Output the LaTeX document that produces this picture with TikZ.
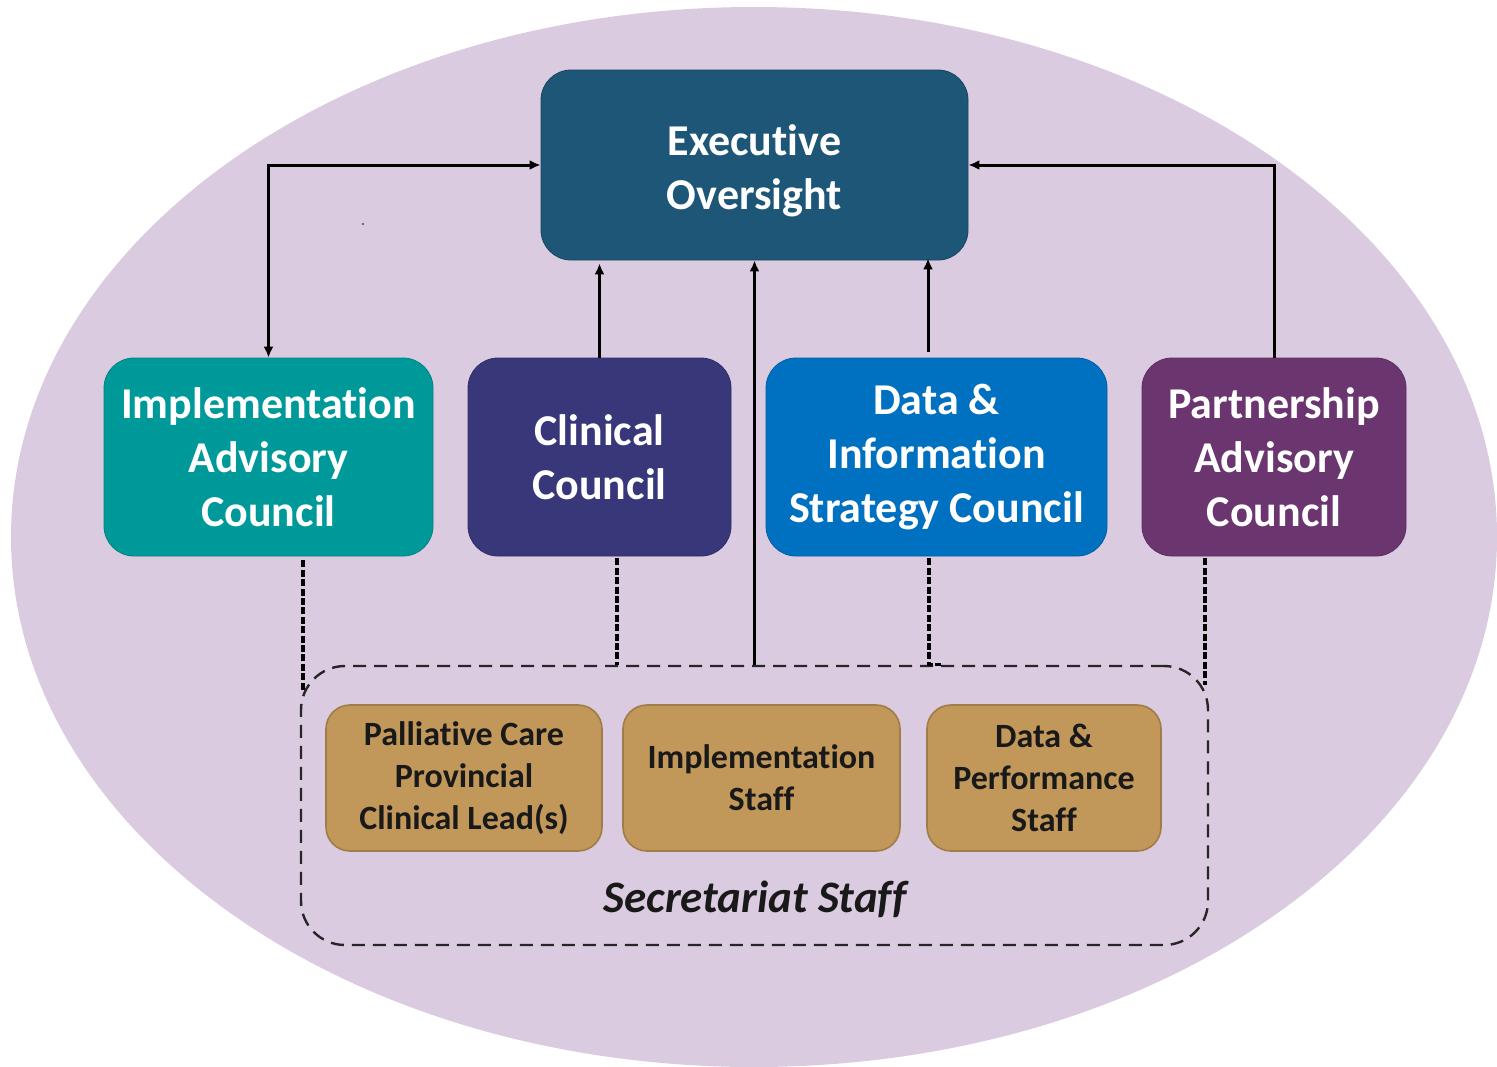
\documentclass[tikz,border=0pt]{standalone}
\usepackage{fontspec}
\setmainfont{Carlito}[Ligatures=NoCommon]
\usetikzlibrary{arrows.meta}
\definecolor{bgc}{HTML}{DACBE0}
\definecolor{execc}{HTML}{1E5678}
\definecolor{implc}{HTML}{009999}
\definecolor{clinc}{HTML}{37377A}
\definecolor{datac}{HTML}{0070C0}
\definecolor{partc}{HTML}{6B3670}
\definecolor{staffc}{HTML}{C1975A}
\definecolor{staffb}{HTML}{A07C48}
\tikzset{
  bigbox/.style={rounded corners=15pt, text=white, align=center,
    font=\bfseries\fontsize{22}{27}\selectfont, inner sep=0pt, minimum height=99pt},
  staffbox/.style={rounded corners=12pt, fill=staffc, draw=staffb, line width=0.8pt,
    text=black!90, align=center, font=\bfseries\fontsize{17}{21}\selectfont,
    inner sep=0pt, minimum height=73pt},
  conn/.style={line width=1.5pt, black},
  tip/.style={-{Latex[length=5.5pt,width=5pt]}},
  dconn/.style={line width=1.6pt, black, dash pattern=on 3.5pt off 1.2pt},
}
\begin{document}
\begin{tikzpicture}[x=0.5pt,y=-0.5pt]
\useasboundingbox (0,0) rectangle (1497,1066);
\fill[bgc] (754,537) ellipse [x radius=371.5pt, y radius=265pt];
\fill[black!70] (363,224) circle [radius=0.6pt];

\node[bigbox, fill=execc, draw=execc!80!black, minimum width=213.5pt, minimum height=95pt]
  (exec) at (754.5,165) {\strut\\[-24.5pt]Executive\\Oversight};
\node[bigbox, fill=implc, draw=implc!85!black, minimum width=164.5pt]
  (impl) at (268.5,457) {Implementation\\Advisory\\Council};
\node[bigbox, fill=clinc, draw=clinc!85!black, minimum width=131.5pt]
  (clin) at (599.5,457) {Clinical\\Council};
\node[bigbox, fill=datac, draw=datac!85!black, minimum width=170.5pt]
  (data) at (936.5,457) {Data \&\\Information\\Strategy Council};
\node[bigbox, fill=partc, draw=partc!85!black, minimum width=132pt]
  (part) at (1274,457) {Partnership\\Advisory\\Council};

\node[draw=black!85, line width=1.2pt, dash pattern=on 6.5pt off 4pt, rounded corners=22pt,
  minimum width=453.5pt, minimum height=139.5pt, inner sep=0pt] (sec) at (754.5,805.5) {};

\node[staffbox, minimum width=138pt] (pal) at (464,778) {Palliative Care\\Provincial\\Clinical Lead(s)};
\node[staffbox, minimum width=138.5pt] (istaff) at (761.5,778) {Implementation\\Staff};
\node[staffbox, minimum width=117pt] (dperf) at (1044,778) {Data \&\\Performance\\Staff};
\node[font=\bfseries\itshape\fontsize{22.5}{26}\selectfont, text=black!90] (seclab) at (755,899) {Secretariat Staff};

% solid arrows
\draw[conn, {Latex[length=5.5pt,width=5pt]}-{Latex[length=5.5pt,width=5pt]}] (impl.north) |- (exec.west);
\draw[conn, tip] (part.north) |- (exec.east);
\draw[conn, tip] (clin.north) -- ([yshift=-1.5pt]clin.north |- exec.south);
\draw[conn, tip] ([xshift=-4.25pt,yshift=3pt]data.north) -- ([xshift=-4.25pt,yshift=1pt]data.north |- exec.south);
\draw[conn, tip] (sec.north) -- (exec.south);

% dashed links
\draw[dconn] ([xshift=17.25pt,yshift=-2pt]impl.south) -- ++(0,130);
\draw[dconn] ([xshift=8.75pt,yshift=-1pt]clin.south) -- ([xshift=8.75pt]clin.south |- sec.north);
\draw[dconn] ([xshift=-3.75pt,yshift=-1pt]data.south) -- ([xshift=-3.75pt]data.south |- sec.north) -- ++(12,0);
\draw[dconn] ([xshift=-34.5pt,yshift=-1pt]part.south) -- ++(0,127);
\end{tikzpicture}
\end{document}
